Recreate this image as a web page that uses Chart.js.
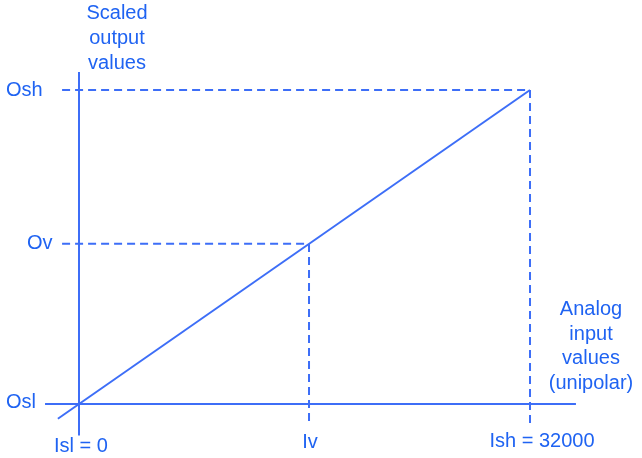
<!DOCTYPE html>
<html>
<head>
<meta charset="utf-8">
<script src="https://cdn.jsdelivr.net/npm/chart.js@4/dist/chart.umd.min.js"></script>
<style>
html,body{margin:0;padding:0;background:#fff;}
canvas{display:block;}
</style>
</head>
<body>
<canvas id="c" width="642" height="458"></canvas>
<script>
// ---- data (input units on x, output units on y) ----
const inputValues  = [0, 16320, 32000];            // Isl, Iv, Ish
const inputLabels  = ['Isl = 0', 'Iv', 'Ish = 32000'];
const outputValues = [0, 51, 100];                 // Osl, Ov, Osh
const outputLabels = ['Osl', 'Ov', 'Osh'];
const scaleLineX   = [-1500, 32000];
const scaleLineY   = [-4.7, 100];
const xAxisExtent  = [-2410, 35260];
const yAxisExtent  = [-10, 105.7];
const guideStart   = -1200;
const guideBottom  = -6.5;
const xTitle = ['Analog', 'input', 'values', '(unipolar)'];
const yTitle = ['Scaled', 'output', 'values'];

const LINE = '#3d6ef7';
const TEXT = '#1f63f2';
const FONT = '20px "Liberation Sans", Arial, sans-serif';

const pts = (xs, ys) => xs.map((x, i) => ({x, y: ys[i]}));

const datasets = [
  {data: pts([0, 0], yAxisExtent), borderWidth: 2},
  {data: pts(xAxisExtent, [0, 0]), borderWidth: 2},
  {data: pts(scaleLineX, scaleLineY), borderWidth: 2},
  {data: pts([guideStart, inputValues[2], inputValues[2]], [outputValues[2], outputValues[2], guideBottom]), borderWidth: 2, borderDash: [8, 5]},
  {data: pts([guideStart, inputValues[1], inputValues[1]], [outputValues[1], outputValues[1], guideBottom]), borderWidth: 2, borderDash: [8, 5]}
].map(d => Object.assign({showLine: true, pointRadius: 0, borderColor: LINE, fill: false, tension: 0, clip: false}, d));

const labelPlugin = {
  id: 'labels',
  afterDatasetsDraw(chart, args, opts) {
    const ctx = chart.ctx, xs = chart.scales.x, ys = chart.scales.y;
    ctx.save();
    ctx.fillStyle = TEXT;
    ctx.font = FONT;
    ctx.textBaseline = 'alphabetic';
    // y-axis value labels
    ctx.textAlign = 'left';
    outputValues.forEach((v, i) => {
      ctx.fillText(outputLabels[i], opts.yLabelX[i], ys.getPixelForValue(v) + opts.yLabelDy[i]);
    });
    // x-axis value labels
    ctx.textAlign = 'center';
    inputValues.forEach((v, i) => {
      ctx.fillText(inputLabels[i], xs.getPixelForValue(v) + opts.xLabelDx[i], opts.xLabelY[i]);
    });
    // axis titles
    yTitle.forEach((t, i) => ctx.fillText(t, xs.getPixelForValue(0) + 38, 19 + i * 25));
    xTitle.forEach((t, i) => ctx.fillText(t, 591, 315 + i * 24.6));
    ctx.restore();
  }
};

new Chart(document.getElementById('c'), {
  type: 'scatter',
  data: {datasets},
  options: {
    responsive: false,
    animation: false,
    events: [],
    layout: {padding: 0},
    plugins: {
      legend: {display: false},
      tooltip: {enabled: false},
      labels: {
        yLabelX: [6, 27, 6],
        yLabelDy: [4, 5, 6],
        xLabelDx: [2, 1, 12],
        xLabelY: [452, 448, 447]
      }
    },
    scales: {
      x: {type: 'linear', display: false, min: -5605.3, max: 39946},
      y: {type: 'linear', display: false, min: -17.2, max: 128.66}
    }
  },
  plugins: [labelPlugin]
});
</script>
</body>
</html>
